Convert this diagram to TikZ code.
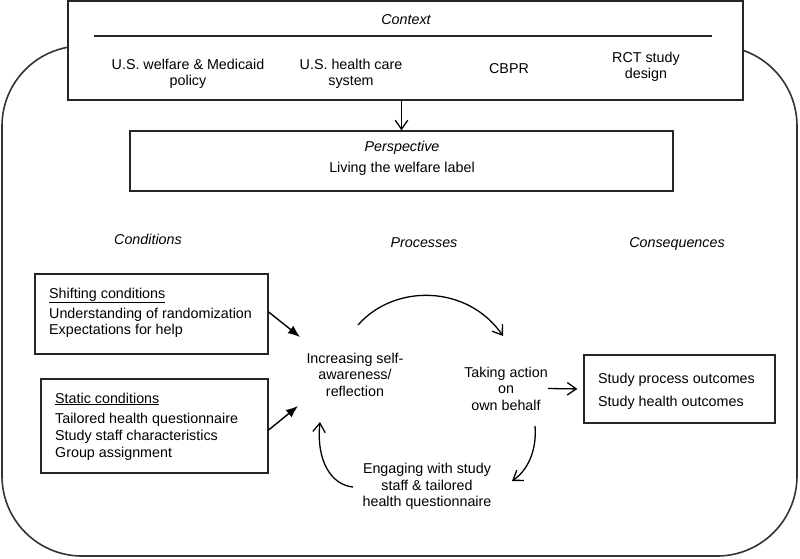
\documentclass[tikz,border=0pt]{standalone}
\usepackage{fontspec}
\setmainfont{Liberation Sans}
\usetikzlibrary{arrows.meta,calc}
\newcommand{\msz}{\fontsize{14.3pt}{16.5pt}\selectfont}
\begin{document}
\begin{tikzpicture}[x=1pt,y=-1pt,
  box/.style={draw=black!85,line width=1.3pt,fill=white,inner sep=0pt},
  txt/.style={inner sep=0pt,font=\msz,align=center},
  ital/.style={txt,font=\msz\itshape},
  filledarr/.style={-{Latex[length=12pt,width=9.5pt]},line width=1.4pt},
  openarr/.style={-{Straight Barb[length=9pt,width=12.5pt]},line width=1.3pt},
  frame/.style={draw=black!80,line width=1.6pt,rounded corners=80pt}]
\useasboundingbox (0,0) rectangle (800,558);
\draw[frame] (2,46) rectangle (797,556);
% Context
\node[box,minimum width=675pt,minimum height=99pt] (ctx) at (405.5,50.5) {};
\draw[line width=1.2pt,black!85] (94,36) -- (712,36);
\node[ital] (ctxh) at (406,20) {Context};
\node[txt] (c1) at (188,74) {U.S. welfare \& Medicaid\\policy};
\node[txt] (c2) at (351,74) {U.S. health care\\system};
\node[txt] (c3) at (509,69) {CBPR};
\node[txt] (c4) at (646,67) {RCT study\\design};
% Perspective
\node[box,minimum width=543pt,minimum height=60pt] (persp) at (401.5,161) {};
\node[ital] (ph) at (402,148) {Perspective};
\node[txt] (pl) at (402,169) {Living the welfare label};
\draw[openarr] (ctx.south -| persp.north) -- (persp.north);
% headers
\node[ital] (hc) at (148,239) {Conditions};
\node[ital] (hp) at (424,243) {Processes};
\node[ital] (hq) at (677,244) {Consequences};
% Shifting
\node[box,minimum width=233pt,minimum height=80pt] (shift) at (151.5,314) {};
\node[txt,anchor=base west] (s1) at (49,298) {\underline{Shifting conditions}};
\node[txt,anchor=base west] (s2) at (49,318) {Understanding of randomization};
\node[txt,anchor=base west] (s3) at (49,334) {Expectations for help};
% Static
\node[box,minimum width=227pt,minimum height=94pt] (static) at (154.5,426) {};
\node[txt,anchor=base west] (t1) at (55,403) {\underline{Static conditions}};
\node[txt,anchor=base west] (t2) at (55,423) {Tailored health questionnaire};
\node[txt,anchor=base west] (t3) at (55,440) {Study staff characteristics};
\node[txt,anchor=base west] (t4) at (55,457) {Group assignment};
% Consequences
\node[box,minimum width=191pt,minimum height=68pt] (cons) at (679.5,389) {};
\node[txt,anchor=base west] (q1) at (598,383) {Study process outcomes};
\node[txt,anchor=base west] (q2) at (598,406) {Study health outcomes};
% Processes
\node[txt] (inc) at (355,374.5) {Increasing self-\\awareness/\\reflection};
\node[txt] (take) at (506,388.5) {Taking action\\on\\own behalf};
\node[txt] (eng) at (427,486.5) {Engaging with study\\staff \& tailored\\health questionnaire};
% arrows
\coordinate (tipA) at (300,337);
\coordinate (tipB) at (298,406);
\draw[filledarr] ($(shift.east)+(0,-2)$) -- (tipA);
\draw[filledarr] ($(static.east)+(0,4)$) -- (tipB);
\coordinate (a1s) at (358,325);
\coordinate (a1e) at (503,336);
\draw[openarr] (a1s) .. controls (395,283) and (468,285) .. (a1e);
\coordinate (a2s) at (535,426);
\coordinate (a2e) at (512,481);
\draw[openarr] (a2s) .. controls (537,450) and (528,470) .. (a2e);
\coordinate (a3s) at (353,487);
\coordinate (a3e) at (320,422);
\draw[openarr] (a3s) .. controls (332,485) and (316,462) .. (a3e);
\draw[openarr,shorten >=6pt] (take.east) -- (cons.west);
\end{tikzpicture}
\end{document}
